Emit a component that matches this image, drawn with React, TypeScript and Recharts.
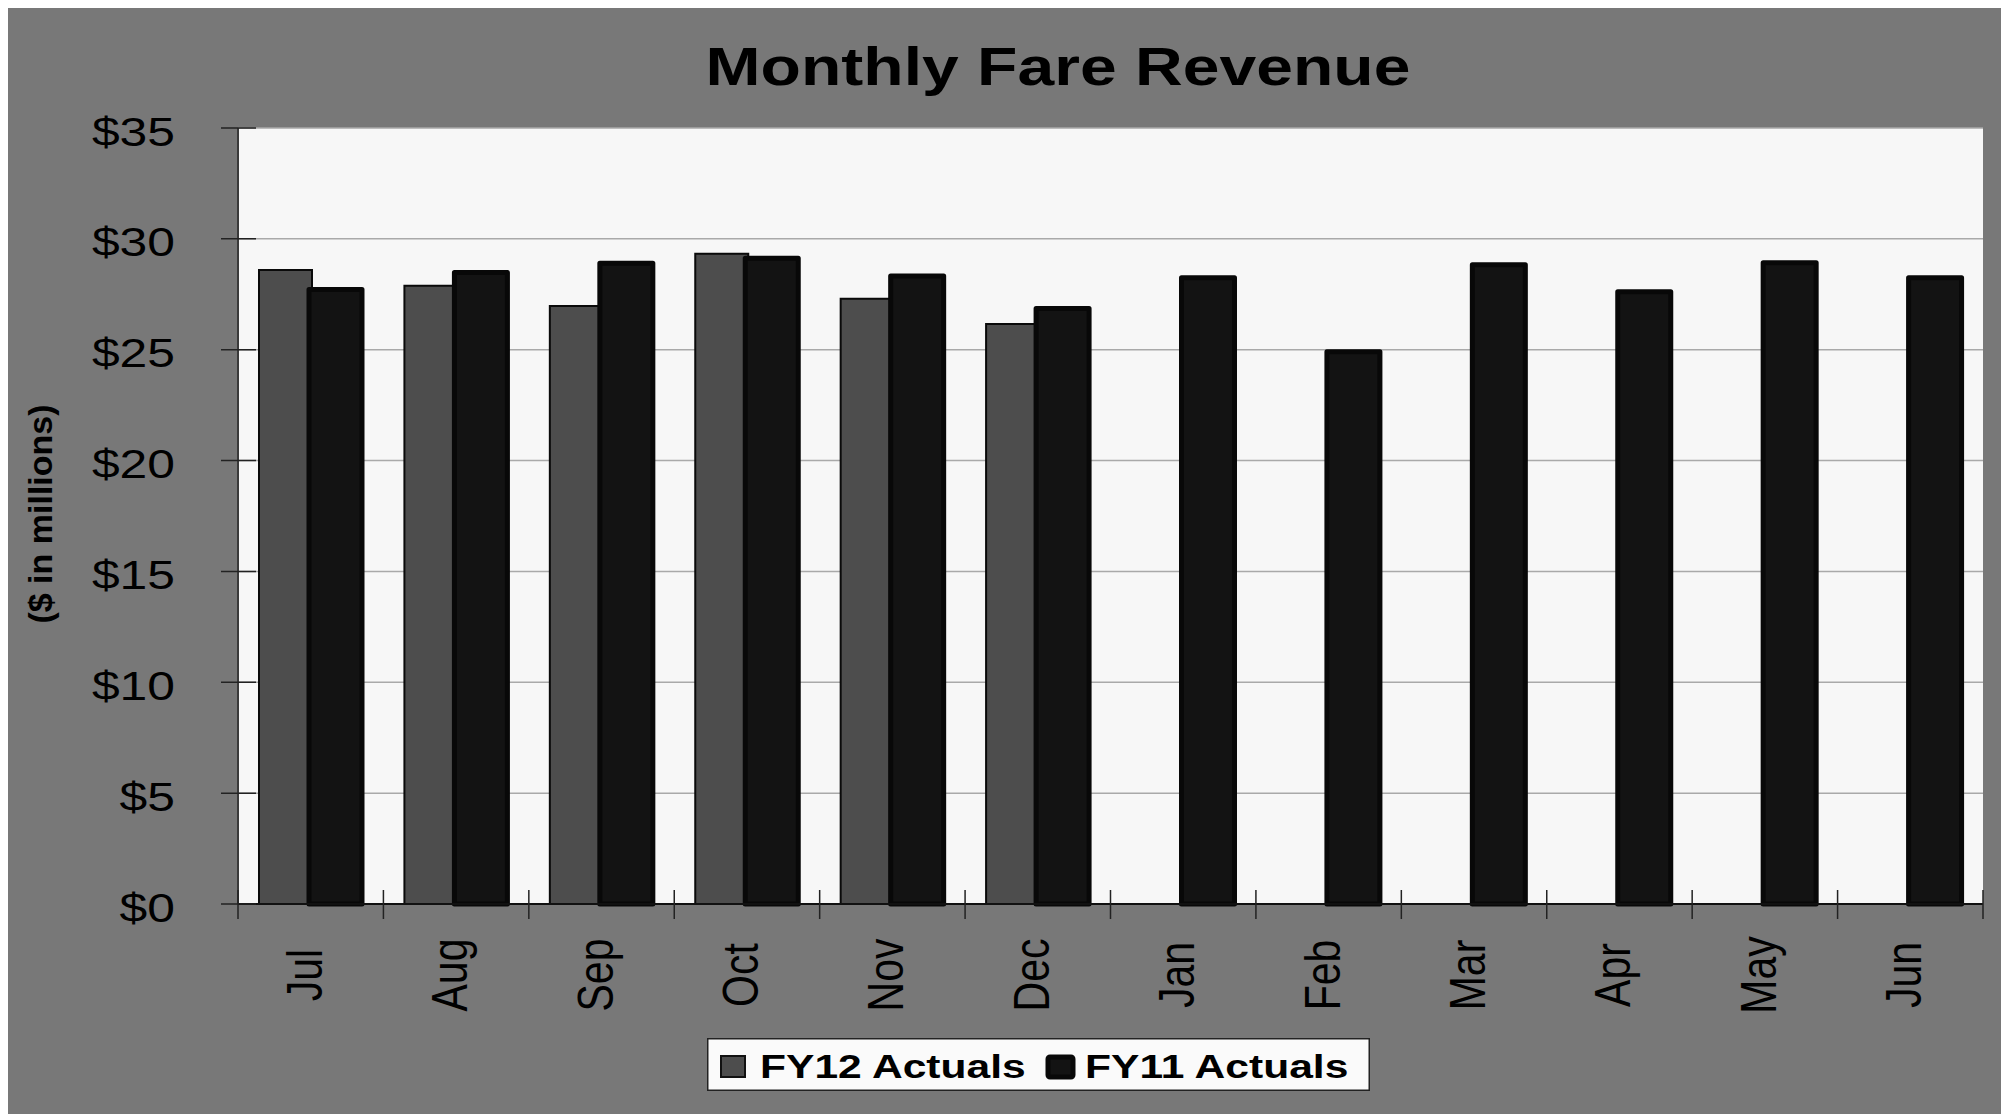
import { BarChart, Bar, XAxis, YAxis, CartesianGrid, Legend } from 'recharts';

const months = ['Jul', 'Aug', 'Sep', 'Oct', 'Nov', 'Dec', 'Jan', 'Feb', 'Mar', 'Apr', 'May', 'Jun'];
const fy12 = [28.6, 27.88, 26.97, 29.33, 27.3, 26.16, null, null, null, null, null, null];
const fy11 = [27.72, 28.48, 28.9, 29.12, 28.32, 26.86, 28.25, 24.91, 28.83, 27.61, 28.92, 28.25];
const yTicks = [0, 5, 10, 15, 20, 25, 30, 35];

const data = months.map((m, i) => ({ month: m, fy12: fy12[i], fy11: fy11[i] }));

const W = 2001;
const H = 1108;
const PLOT_LEFT = 230;
const PLOT_RIGHT = 1975;
const PLOT_BOTTOM = 898;
const BAND = (PLOT_RIGHT - PLOT_LEFT) / months.length;
const STRETCH = 1.23;
const FONT = '"Liberation Sans", Arial, sans-serif';

function YTick(props: any) {
  const { y, payload } = props;
  return (
    <g>
      <line x1={PLOT_LEFT - 17} x2={PLOT_LEFT + 18} y1={y} y2={y} stroke="#222" strokeWidth={1.5} />
      <text
        transform={`translate(167, ${y + 17.5}) scale(${STRETCH}, 1)`}
        textAnchor="end"
        fontSize={40.5}
        fontFamily={FONT}
        fill="#000"
      >
        {`$${payload.value}`}
      </text>
    </g>
  );
}

function XTick(props: any) {
  const { x, payload, index } = props;
  const left = x - BAND / 2;
  return (
    <g>
      <line x1={left} x2={left} y1={PLOT_BOTTOM - 14} y2={PLOT_BOTTOM + 15} stroke="#222" strokeWidth={1.5} />
      {index === months.length - 1 && (
        <line x1={x + BAND / 2} x2={x + BAND / 2} y1={PLOT_BOTTOM - 14} y2={PLOT_BOTTOM + 15} stroke="#222" strokeWidth={1.5} />
      )}
      <text
        transform={`translate(${x + 11}, 969) scale(${STRETCH}, 1) rotate(-90)`}
        textAnchor="middle"
        fontSize={41}
        fontFamily={FONT}
        fill="#000"
      >
        {payload.value}
      </text>
    </g>
  );
}

function LegendBox() {
  return (
    <svg width={663} height={53} style={{ display: 'block' }}>
      <rect x={0.75} y={0.75} width={661.5} height={51.5} fill="#fafafa" stroke="#222" strokeWidth={1.5} />
      <rect x={14} y={18} width={24} height={21} fill="#4d4d4d" stroke="#111" strokeWidth={2} />
      <text
        transform={`translate(53, 39.7) scale(1.31, 1)`}
        fontSize={32.5}
        fontWeight="bold"
        fontFamily={FONT}
        fill="#000"
      >
        FY12 Actuals
      </text>
      <rect x={341} y={19} width={25} height={20} rx={2} fill="#131313" stroke="#080808" strokeWidth={5} />
      <text
        transform={`translate(378, 39.7) scale(1.31, 1)`}
        fontSize={32.5}
        fontWeight="bold"
        fontFamily={FONT}
        fill="#000"
      >
        FY11 Actuals
      </text>
    </svg>
  );
}

export default function App() {
  return (
    <div style={{ position: 'relative', width: W, height: H, marginTop: -2, background: '#787878' }}>
      <BarChart
        width={W}
        height={H}
        data={data}
        margin={{ top: 122, right: W - PLOT_RIGHT, bottom: 0, left: 0 }}
        barSize={53}
        barGap={-3}
      >
        <CartesianGrid horizontal vertical={false} fill="#f7f7f7" stroke="#a9a9a9" strokeWidth={1.5} />
        <XAxis
          dataKey="month"
          height={H - PLOT_BOTTOM}
          interval={0}
          tick={<XTick />}
          tickLine={false}
          axisLine={{ stroke: '#111', strokeWidth: 2 }}
        />
        <YAxis
          width={PLOT_LEFT}
          domain={[0, 35]}
          ticks={yTicks}
          interval={0}
          tick={<YTick />}
          tickLine={false}
          axisLine={{ stroke: '#3a3a3a', strokeWidth: 2 }}
        />
        <Legend
          layout="horizontal"
          verticalAlign="middle"
          align="center"
          wrapperStyle={{ position: 'absolute', left: 699, top: 1032, width: 663, height: 53 }}
          content={() => <LegendBox />}
        />
        <Bar dataKey="fy12" name="FY12 Actuals" fill="#4d4d4d" stroke="#0a0a0a" strokeWidth={2} isAnimationActive={false} />
        <Bar
          dataKey="fy11"
          name="FY11 Actuals"
          fill="#131313"
          stroke="#080808"
          strokeWidth={5}
          strokeLinejoin="round"
          isAnimationActive={false}
        />
      </BarChart>
      <svg width={W} height={H} style={{ position: 'absolute', left: 0, top: 0, pointerEvents: 'none' }}>
        <text
          transform={`translate(1050, 79) scale(1.235, 1)`}
          textAnchor="middle"
          fontSize={53.5}
          fontWeight="bold"
          fontFamily={FONT}
          fill="#000"
        >
          Monthly Fare Revenue
        </text>
        <text
          transform="translate(44, 508) rotate(-90)"
          textAnchor="middle"
          fontSize={34}
          fontWeight="bold"
          fontFamily={FONT}
          fill="#000"
        >
          ($ in millions)
        </text>
      </svg>
    </div>
  );
}
